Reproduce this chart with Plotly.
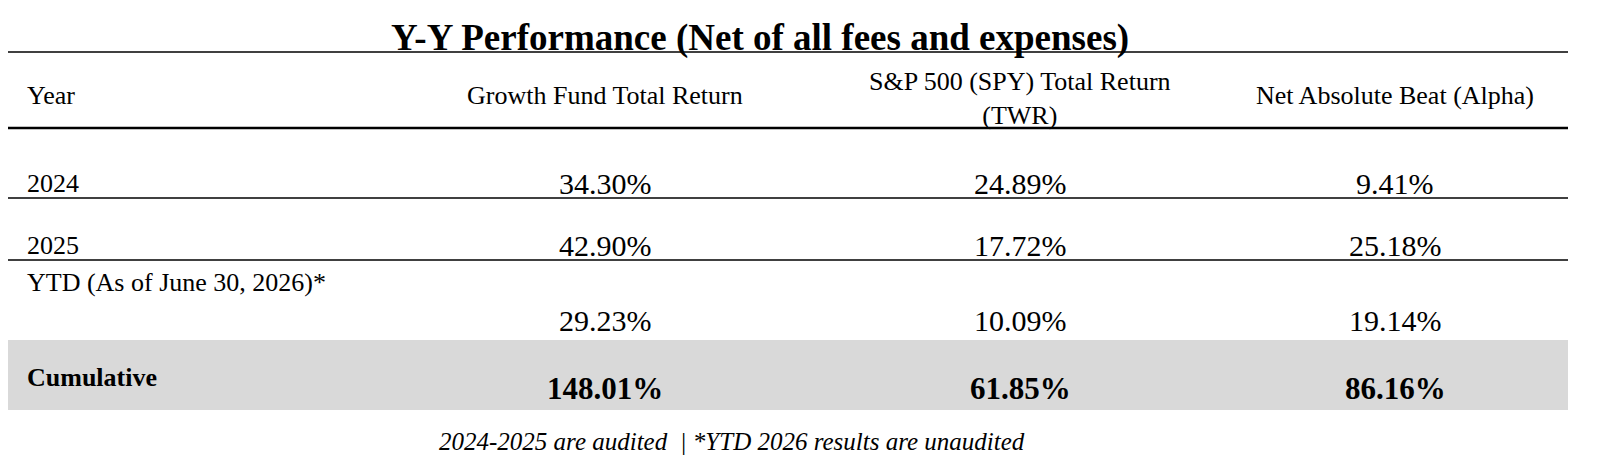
import plotly.graph_objects as go

title = "Y-Y Performance (Net of all fees and expenses)"
headers = ["Year", "Growth Fund Total Return", "S&P 500 (SPY) Total Return<br>(TWR)", "Net Absolute Beat (Alpha)"]
years = ["2024", "2025", "YTD (As of June 30, 2026)*"]
fund = ["34.30%", "42.90%", "29.23%"]
spy = ["24.89%", "17.72%", "10.09%"]
alpha = ["9.41%", "25.18%", "19.14%"]
cumulative = ["Cumulative", "148.01%", "61.85%", "86.16%"]
footnote = "2024-2025 are audited  | *YTD 2026 results are unaudited"

W, H = 1602, 476
OFF = 8  # page body margin
FONT = "Liberation Serif"
col_x = [25, 605, 1020, 1395]
label_y = [183, 245, 282]
value_y = [183, 245, 320]

fig = go.Figure()
shapes = [
    dict(type="rect", x0=0, x1=1568, y0=340, y1=410, fillcolor="#d9d9d9", line_width=0, layer="below"),
    dict(type="line", x0=0, x1=1568, y0=52, y1=52, line=dict(color="black", width=1.5)),
    dict(type="line", x0=0, x1=1568, y0=128, y1=128, line=dict(color="black", width=2.5)),
    dict(type="line", x0=0, x1=1568, y0=198, y1=198, line=dict(color="black", width=1.5)),
    dict(type="line", x0=0, x1=1568, y0=260, y1=260, line=dict(color="black", width=1.5)),
]
ann = [dict(x=760, y=38, text=f"<b>{title}</b>", font=dict(size=37))]
for i, h in enumerate(headers):
    ann.append(dict(x=col_x[i], y=95 if i != 2 else 98, text=h, font=dict(size=26),
                    xanchor="left" if i == 0 else "center"))
for r, yr in enumerate(years):
    ann.append(dict(x=col_x[0], y=label_y[r], text=yr, font=dict(size=26), xanchor="left"))
    for c, vals in enumerate([fund, spy, alpha]):
        ann.append(dict(x=col_x[c + 1], y=value_y[r], text=vals[r], font=dict(size=30)))
ann.append(dict(x=col_x[0], y=377, text=f"<b>{cumulative[0]}</b>", font=dict(size=26), xanchor="left"))
for c in range(1, 4):
    ann.append(dict(x=col_x[c], y=388, text=f"<b>{cumulative[c]}</b>", font=dict(size=31)))
ann.append(dict(x=732, y=441, text=f"<i>{footnote}</i>", font=dict(size=25)))
for a in ann:
    a.setdefault("xanchor", "center")
    a.update(xref="x", yref="y", showarrow=False, yanchor="middle")
    a["font"].update(family=FONT, color="black")

fig.update_layout(
    width=W, height=H, margin=dict(l=0, r=0, t=0, b=0),
    plot_bgcolor="white", paper_bgcolor="white",
    xaxis=dict(range=[OFF, W + OFF], visible=False),
    yaxis=dict(range=[H + OFF, OFF], visible=False),
    shapes=shapes, annotations=ann, showlegend=False,
)
fig.write_html("out.html")
